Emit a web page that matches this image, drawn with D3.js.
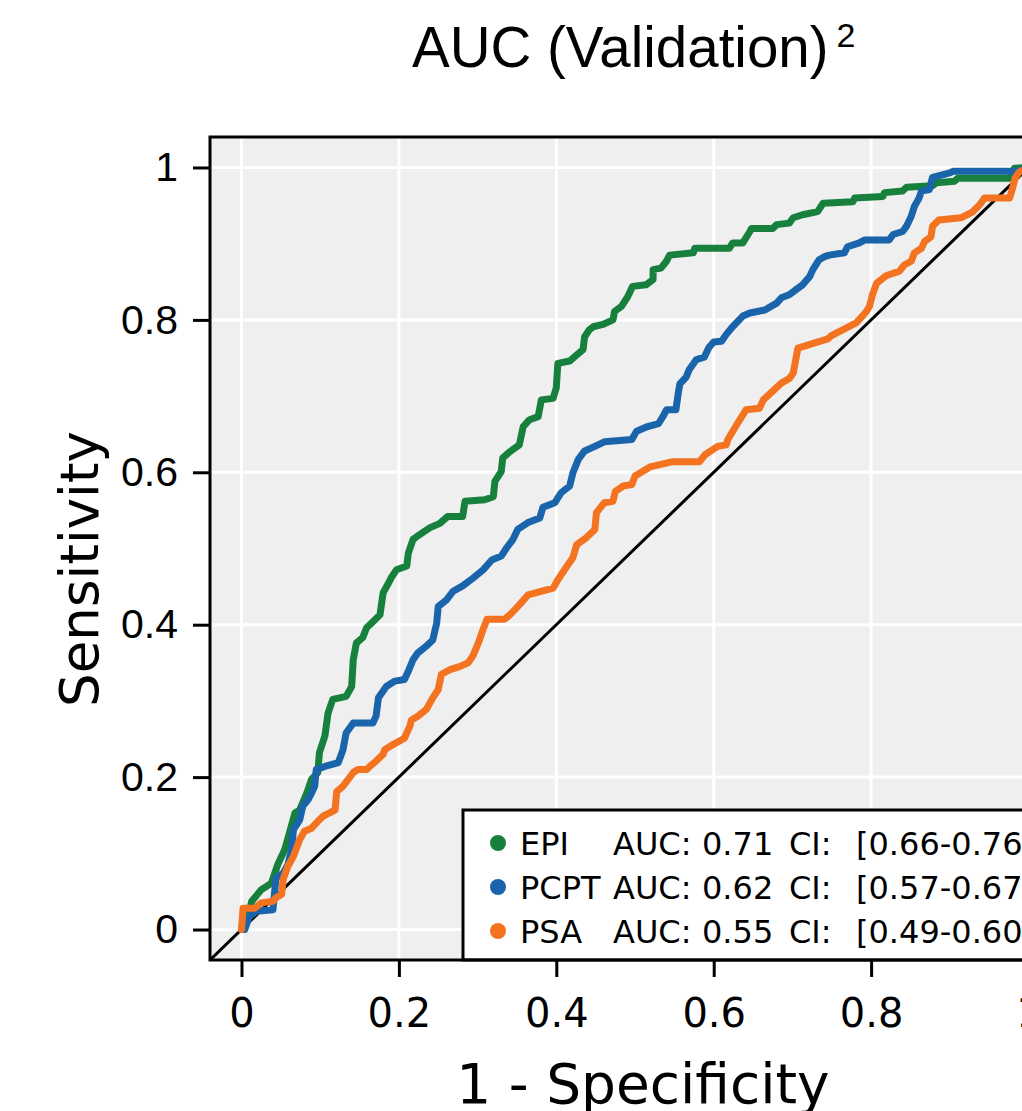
<!DOCTYPE html>
<html><head><meta charset="utf-8">
<script src="https://cdn.jsdelivr.net/npm/d3@7"></script>
<style>body{margin:0;background:#fff;overflow:hidden}</style>
</head><body>
<svg id="c" width="1022" height="1111"></svg>
<script>
const seriesNames = ["EPI", "PCPT", "PSA"];
const aucValues = ["0.71", "0.62", "0.55"];
const ciValues = ["[0.66-0.76]", "[0.57-0.67]", "[0.49-0.60]"];
const seriesColors = ["#17803d", "#1a64ab", "#f47320"];
const tickValues = [0, 0.2, 0.4, 0.6, 0.8, 1];
const tickLabels = ["0", "0.2", "0.4", "0.6", "0.8", "1"];

const epiPoints = [[0,0],[0.004,0],[0.013,0.037],[0.025,0.052],[0.038,0.061],[0.046,0.085],[0.055,0.105],[0.061,0.127],[0.068,0.153],[0.074,0.157],[0.083,0.179],[0.089,0.197],[0.097,0.206],[0.099,0.232],[0.106,0.254],[0.110,0.284],[0.116,0.302],[0.133,0.306],[0.140,0.319],[0.142,0.354],[0.146,0.376],[0.154,0.383],[0.159,0.396],[0.167,0.404],[0.176,0.413],[0.180,0.442],[0.186,0.453],[0.191,0.463],[0.197,0.472],[0.210,0.477],[0.212,0.494],[0.218,0.512],[0.226,0.518],[0.239,0.527],[0.252,0.533],[0.262,0.542],[0.281,0.542],[0.284,0.562],[0.309,0.564],[0.320,0.568],[0.322,0.588],[0.330,0.601],[0.332,0.619],[0.341,0.627],[0.353,0.636],[0.358,0.660],[0.366,0.669],[0.377,0.673],[0.381,0.695],[0.396,0.697],[0.400,0.711],[0.402,0.743],[0.417,0.746],[0.426,0.754],[0.434,0.761],[0.436,0.778],[0.442,0.787],[0.447,0.791],[0.459,0.794],[0.472,0.800],[0.474,0.811],[0.483,0.818],[0.491,0.831],[0.497,0.844],[0.514,0.846],[0.523,0.853],[0.523,0.866],[0.533,0.868],[0.540,0.877],[0.544,0.885],[0.574,0.888],[0.576,0.894],[0.620,0.894],[0.624,0.901],[0.637,0.901],[0.646,0.916],[0.648,0.920],[0.675,0.920],[0.680,0.925],[0.696,0.927],[0.701,0.934],[0.713,0.938],[0.732,0.942],[0.739,0.953],[0.777,0.955],[0.779,0.960],[0.815,0.962],[0.817,0.967],[0.840,0.969],[0.845,0.974],[0.878,0.976],[0.883,0.980],[0.906,0.982],[0.910,0.986],[0.976,0.986],[0.982,0.999],[1,1]];

const pcptPoints = [[0,0],[0.004,0],[0.010,0.017],[0.019,0.024],[0.040,0.026],[0.042,0.048],[0.044,0.068],[0.053,0.074],[0.059,0.085],[0.064,0.107],[0.066,0.131],[0.074,0.144],[0.078,0.162],[0.085,0.171],[0.089,0.179],[0.093,0.188],[0.095,0.210],[0.106,0.214],[0.123,0.219],[0.129,0.236],[0.133,0.258],[0.142,0.271],[0.167,0.271],[0.171,0.280],[0.174,0.304],[0.184,0.319],[0.195,0.326],[0.207,0.328],[0.212,0.339],[0.218,0.354],[0.224,0.363],[0.235,0.372],[0.243,0.380],[0.248,0.402],[0.250,0.424],[0.260,0.432],[0.269,0.444],[0.281,0.451],[0.294,0.461],[0.307,0.472],[0.318,0.485],[0.330,0.490],[0.337,0.501],[0.345,0.512],[0.351,0.525],[0.364,0.534],[0.379,0.540],[0.383,0.554],[0.398,0.560],[0.406,0.573],[0.417,0.582],[0.421,0.599],[0.428,0.617],[0.436,0.628],[0.449,0.634],[0.461,0.640],[0.496,0.643],[0.502,0.654],[0.516,0.660],[0.530,0.664],[0.536,0.674],[0.540,0.682],[0.552,0.682],[0.555,0.704],[0.557,0.716],[0.565,0.725],[0.569,0.735],[0.578,0.748],[0.588,0.751],[0.594,0.764],[0.600,0.771],[0.610,0.772],[0.616,0.781],[0.624,0.791],[0.637,0.805],[0.646,0.809],[0.665,0.813],[0.680,0.822],[0.686,0.829],[0.696,0.833],[0.705,0.840],[0.713,0.846],[0.722,0.857],[0.726,0.866],[0.734,0.879],[0.741,0.883],[0.747,0.885],[0.766,0.888],[0.770,0.896],[0.785,0.901],[0.792,0.905],[0.823,0.905],[0.828,0.912],[0.840,0.916],[0.845,0.923],[0.851,0.936],[0.855,0.949],[0.861,0.960],[0.864,0.969],[0.874,0.971],[0.878,0.987],[0.900,0.993],[0.904,0.995],[0.986,0.995],[1,1]];

const psaPoints = [[0,0],[0.002,0.028],[0.017,0.028],[0.025,0.035],[0.040,0.037],[0.044,0.042],[0.051,0.046],[0.053,0.066],[0.059,0.083],[0.066,0.096],[0.070,0.107],[0.074,0.118],[0.080,0.129],[0.089,0.133],[0.097,0.142],[0.104,0.149],[0.112,0.153],[0.119,0.157],[0.121,0.181],[0.129,0.188],[0.142,0.206],[0.148,0.210],[0.159,0.210],[0.163,0.214],[0.171,0.221],[0.180,0.230],[0.182,0.236],[0.193,0.243],[0.207,0.251],[0.214,0.267],[0.216,0.275],[0.224,0.280],[0.235,0.289],[0.243,0.304],[0.250,0.315],[0.254,0.335],[0.265,0.341],[0.277,0.345],[0.288,0.350],[0.294,0.359],[0.301,0.376],[0.307,0.394],[0.312,0.407],[0.334,0.407],[0.341,0.413],[0.353,0.426],[0.364,0.439],[0.396,0.448],[0.402,0.459],[0.413,0.476],[0.421,0.488],[0.426,0.505],[0.438,0.514],[0.449,0.525],[0.451,0.547],[0.461,0.560],[0.472,0.562],[0.475,0.575],[0.485,0.582],[0.496,0.584],[0.500,0.595],[0.519,0.607],[0.548,0.614],[0.582,0.614],[0.589,0.623],[0.605,0.634],[0.616,0.636],[0.618,0.643],[0.629,0.662],[0.641,0.682],[0.658,0.684],[0.663,0.695],[0.686,0.717],[0.696,0.723],[0.701,0.730],[0.707,0.763],[0.745,0.775],[0.749,0.779],[0.781,0.796],[0.788,0.804],[0.794,0.811],[0.798,0.818],[0.802,0.834],[0.807,0.848],[0.819,0.858],[0.836,0.864],[0.842,0.872],[0.851,0.877],[0.855,0.888],[0.864,0.894],[0.868,0.903],[0.876,0.909],[0.878,0.923],[0.886,0.931],[0.914,0.934],[0.928,0.941],[0.938,0.951],[0.944,0.960],[0.976,0.960],[0.980,0.974],[0.983,0.986],[0.988,0.994],[1,1]];

const seriesPoints = [epiPoints, pcptPoints, psaPoints];

(function () {
const svg = d3.select("#c");
const pL = 210, pR = 1060, pT = 137, pB = 960;
const x = d3.scaleLinear().domain([-0.04, 1.04]).range([pL, pR]);
const y = d3.scaleLinear().domain([-0.04, 1.04]).range([pB, pT]);

svg.append("defs").append("clipPath").attr("id", "clip")
  .append("rect").attr("x", pL).attr("y", pT).attr("width", pR - pL).attr("height", pB - pT);

svg.append("rect").attr("x", pL).attr("y", pT).attr("width", pR - pL).attr("height", pB - pT)
  .attr("fill", "#efefef");

const grid = svg.append("g").attr("clip-path", "url(#clip)");
grid.selectAll("line.vx").data(tickValues).join("line").attr("class", "vx")
  .attr("x1", d => x(d)).attr("x2", d => x(d)).attr("y1", pT).attr("y2", pB)
  .attr("stroke", "#fff").attr("stroke-width", 3);
grid.selectAll("line.hy").data(tickValues).join("line").attr("class", "hy")
  .attr("y1", d => y(d)).attr("y2", d => y(d)).attr("x1", pL).attr("x2", pR)
  .attr("stroke", "#fff").attr("stroke-width", 3);

const plotG = svg.append("g").attr("clip-path", "url(#clip)");
plotG.append("line")
  .attr("x1", x(-0.04)).attr("y1", y(-0.04)).attr("x2", x(1.04)).attr("y2", y(1.04))
  .attr("stroke", "#000").attr("stroke-width", 3);

const line = d3.line().x(d => x(d[0])).y(d => y(d[1]));
seriesPoints.forEach((pts, i) => {
  plotG.append("path").datum(pts).attr("d", line)
    .attr("fill", "none").attr("stroke", seriesColors[i])
    .attr("stroke-width", 7).attr("stroke-linejoin", "round").attr("stroke-linecap", "round");
});

const lg = svg.append("g");
const lgLeft = 463, lgTop = 810, rowH = 44;
lg.append("rect").attr("x", lgLeft).attr("y", lgTop).attr("width", 700).attr("height", pB - lgTop)
  .attr("fill", "#fff").attr("stroke", "#000").attr("stroke-width", 3);
const colOffsets = [57, 150, 239, 326, 393];
seriesNames.forEach((name, i) => {
  const cy = lgTop + 33 + i * rowH;
  lg.append("circle").attr("cx", lgLeft + 35).attr("cy", cy).attr("r", 8).attr("fill", seriesColors[i]);
  const parts = [name, "AUC:", aucValues[i], "CI:", ciValues[i]];
  parts.forEach((p, j) => {
    lg.append("text").attr("x", lgLeft + colOffsets[j]).attr("y", cy + 12)
      .attr("font-family", "DejaVu Sans").attr("font-size", 32).attr("fill", "#000").text(p);
  });
});

svg.append("rect").attr("x", pL).attr("y", pT).attr("width", pR - pL).attr("height", pB - pT)
  .attr("fill", "none").attr("stroke", "#000").attr("stroke-width", 3);

const yAxis = d3.axisLeft(y).tickValues(tickValues).tickFormat((d, i) => tickLabels[i]).tickSize(17).tickPadding(15);
const gy = svg.append("g").attr("transform", `translate(${pL},0)`).call(yAxis);
gy.select(".domain").remove();
gy.selectAll(".tick line").attr("stroke", "#000").attr("stroke-width", 3);
gy.selectAll(".tick text").attr("font-family", "Liberation Sans, Arial, sans-serif").attr("font-size", 41).attr("fill", "#000");

const xAxis = d3.axisBottom(x).tickValues(tickValues).tickFormat((d, i) => tickLabels[i]).tickSize(17).tickPadding(22);
const gx = svg.append("g").attr("transform", `translate(0,${pB})`).call(xAxis);
gx.select(".domain").remove();
gx.selectAll(".tick line").attr("stroke", "#000").attr("stroke-width", 3);
gx.selectAll(".tick text").attr("font-family", "DejaVu Sans").attr("font-size", 40).attr("fill", "#000");

const title = svg.append("text").attr("x", 412).attr("y", 67)
  .attr("font-family", "Liberation Sans, Arial, sans-serif").attr("font-size", 56.5).attr("fill", "#000");
title.append("tspan").text("AUC (Validation)");
title.append("tspan").attr("dx", 8).attr("dy", -20).attr("font-size", 34).text("2");

svg.append("text").attr("x", 643).attr("y", 1103).attr("text-anchor", "middle")
  .attr("font-family", "DejaVu Sans").attr("font-size", 55).attr("fill", "#000").text("1 - Specificity");

svg.append("text").attr("transform", "translate(98,569) rotate(-90)").attr("text-anchor", "middle")
  .attr("font-family", "DejaVu Sans").attr("font-size", 53).attr("fill", "#000").text("Sensitivity");
})();
</script>
</body></html>
